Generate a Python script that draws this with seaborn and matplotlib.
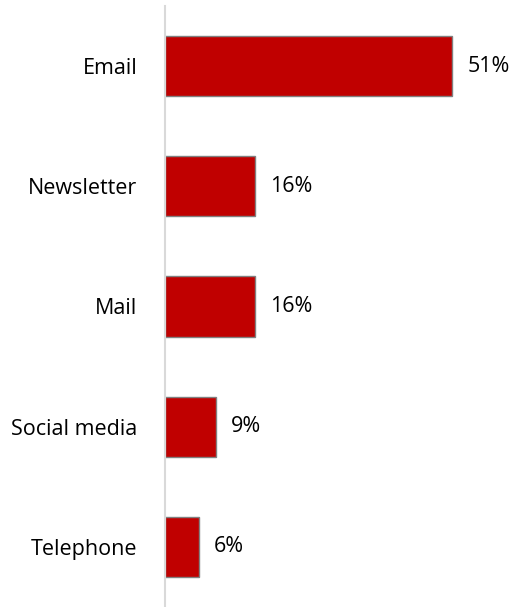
import matplotlib
matplotlib.use("Agg")
import matplotlib.pyplot as plt
import seaborn as sns
import pandas as pd

categories = ["Email", "Newsletter", "Mail", "Social media", "Telephone"]
shares = [51, 16, 16, 9, 6]
value_labels = ["51%", "16%", "16%", "9%", "6%"]

sns.set_theme(style="white")
plt.rcParams["font.family"] = ["Open Sans", "DejaVu Sans"]

df = pd.DataFrame({"channel": categories, "share": shares})

fig = plt.figure(figsize=(5.2, 6.07), dpi=100)
ax = fig.add_axes([165 / 520, 0.0, (520 - 165) / 520, 601 / 607])

sns.barplot(data=df, x="share", y="channel", orient="h", color="#C00000",
            saturation=1, width=0.5, edgecolor="#808080", linewidth=1.0, ax=ax)

ax.set_xlim(0, 63)
ax.set_ylim(4.5, -0.5)

for i, (v, lab) in enumerate(zip(shares, value_labels)):
    ax.annotate(lab, xy=(v, i), xytext=(11, 0), textcoords="offset points",
                va="center", ha="left", fontsize=15.5, color="#000000")

ax.set_xlabel("")
ax.set_ylabel("")
ax.set_xticks([])
ax.tick_params(axis="y", length=0, pad=20, labelsize=15.5, labelcolor="#000000")
for side in ["top", "right", "bottom"]:
    ax.spines[side].set_visible(False)
ax.spines["left"].set_color("#D9D9D9")
ax.spines["left"].set_linewidth(1.5)

fig.savefig("out.png", dpi=100)
